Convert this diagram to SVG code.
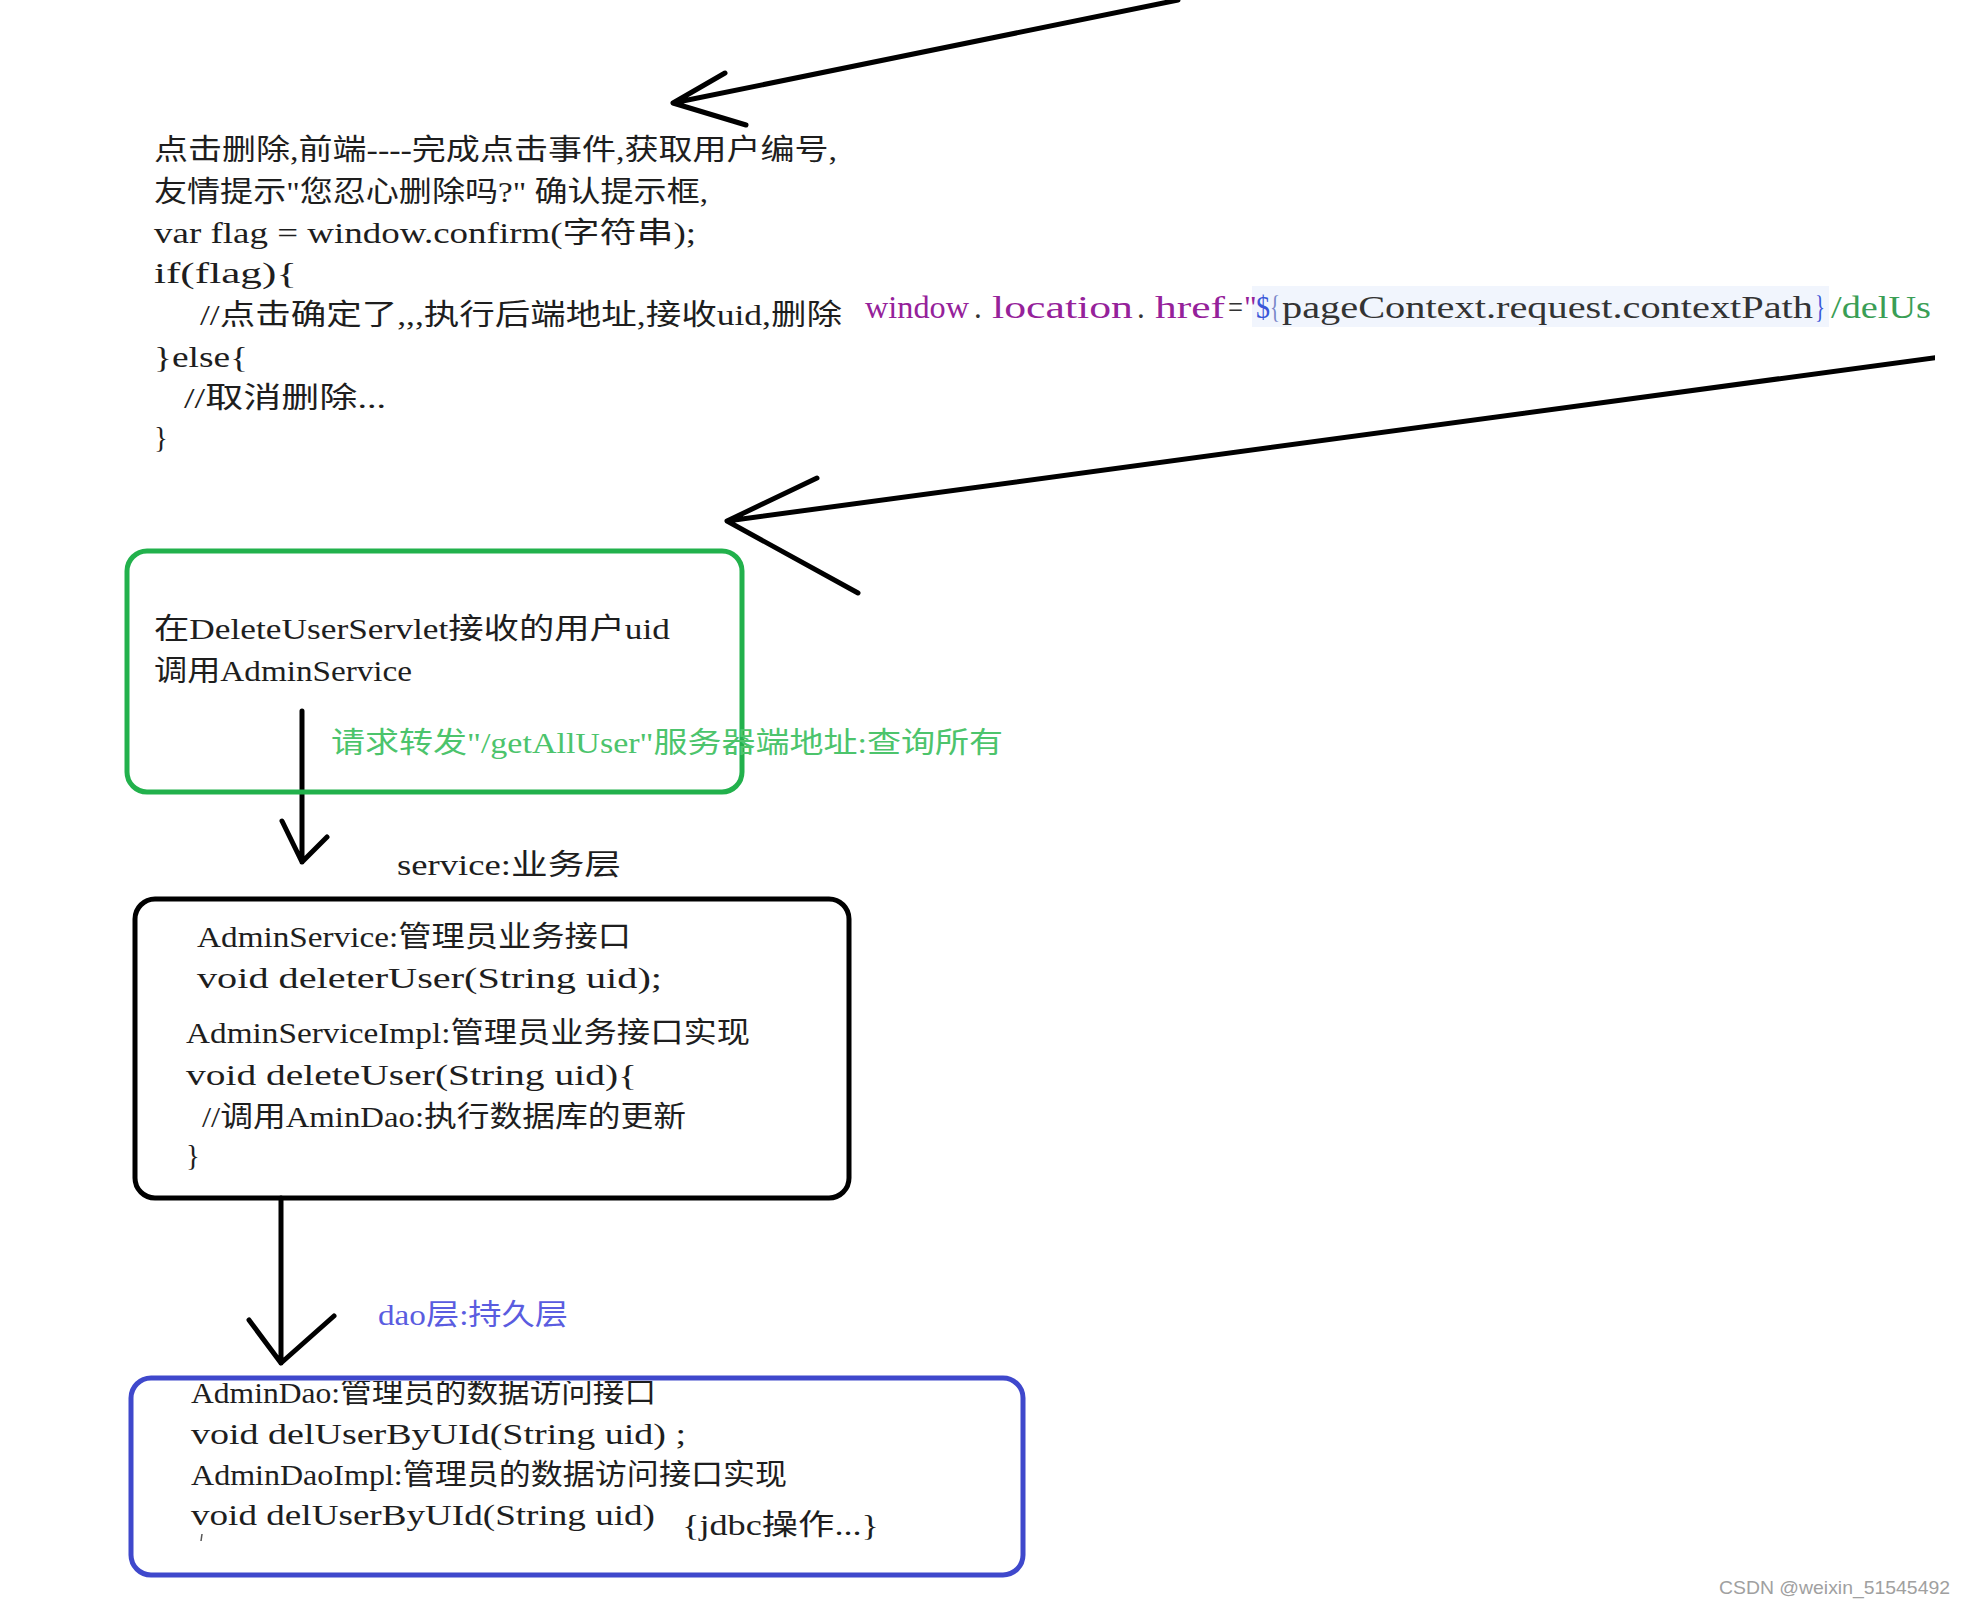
<svg xmlns="http://www.w3.org/2000/svg" width="1965" height="1607" viewBox="0 0 1965 1607">
<style>
.t{font-family:"Liberation Serif","Noto Sans CJK SC",serif;font-size:29px;fill:#1e1e1e;}
.c{font-family:"Liberation Serif","Noto Sans CJK SC",serif;font-size:31px;}
.pu{fill:#95219a;}
.dk{fill:#333333;}
.bl{fill:#3a55d8;}
.bg{fill:#7a86c8;}
.gr{fill:#3a9e55;}
.ln{stroke:#000;stroke-width:5;fill:none;stroke-linecap:round;stroke-linejoin:round;}
.box{fill:none;stroke-width:5;}
</style>
<defs>
<clipPath id="clipRight"><rect x="0" y="0" width="1935" height="1607"/></clipPath>
<clipPath id="clipDao"><rect x="0" y="1381" width="1965" height="226"/></clipPath>
</defs>
<rect width="1965" height="1607" fill="#ffffff"/>

<g id="connectors">
  <path class="ln" d="M1178 0 L673 103 M725 73 L673 103 L746 125"/>
  <path class="ln" clip-path="url(#clipRight)" d="M1940 357 L727 521 M817 478 L727 521 L858 593"/>
  <path class="ln" d="M302 711 L302 862 M282 821 L302 862 L327 837"/>
  <path class="ln" d="M281 1198 L281 1363 M249 1320 L281 1363 L334 1316"/>
</g>

<g id="node-frontend">
  <text class="t" x="154" y="160" textLength="683" lengthAdjust="spacingAndGlyphs">点击删除,前端----完成点击事件,获取用户编号,</text>
  <text class="t" x="154" y="202" textLength="554" lengthAdjust="spacingAndGlyphs">友情提示"您忍心删除吗?" 确认提示框,</text>
  <text class="t" x="154" y="243" textLength="542" lengthAdjust="spacingAndGlyphs">var flag = window.confirm(字符串);</text>
  <text class="t" x="154" y="283" textLength="143" lengthAdjust="spacingAndGlyphs">if(flag){</text>
  <text class="t" x="200" y="325" textLength="642" lengthAdjust="spacingAndGlyphs">//点击确定了,,,执行后端地址,接收uid,删除</text>
  <text class="t" x="154" y="367" textLength="94" lengthAdjust="spacingAndGlyphs">}else{</text>
  <text class="t" x="184" y="408" textLength="202" lengthAdjust="spacingAndGlyphs">//取消删除...</text>
  <text class="t" x="154" y="447">}</text>
</g>

<g id="node-code" clip-path="url(#clipRight)">
  <rect x="1252" y="286" width="577" height="41" fill="#f1f5fd"/>
  <text class="c pu" x="865" y="318" textLength="104" lengthAdjust="spacingAndGlyphs">window</text>
  <text class="c dk" x="974" y="318">.</text>
  <text class="c pu" x="992" y="318" textLength="141" lengthAdjust="spacingAndGlyphs">location</text>
  <text class="c dk" x="1137" y="318">.</text>
  <text class="c pu" x="1155" y="318" textLength="70" lengthAdjust="spacingAndGlyphs">href</text>
  <text class="c dk" x="1228" y="318" textLength="15" lengthAdjust="spacingAndGlyphs">=</text>
  <text class="c pu" x="1244" y="318">"</text>
  <text class="c bl" x="1256" y="318" textLength="14" lengthAdjust="spacingAndGlyphs">$</text>
  <text class="c bg" x="1270" y="318" textLength="10" lengthAdjust="spacingAndGlyphs">{</text>
  <text class="c dk" x="1282" y="318" textLength="531" lengthAdjust="spacingAndGlyphs">pageContext.request.contextPath</text>
  <text class="c bl" x="1815" y="318" textLength="10" lengthAdjust="spacingAndGlyphs">}</text>
  <text class="c gr" x="1831" y="318" textLength="100" lengthAdjust="spacingAndGlyphs">/delUs</text>
</g>

<g id="node-servlet">
  <rect class="box" x="127" y="551" width="615" height="241" rx="20" ry="20" stroke="#22b14c"/>
  <text class="t" x="154" y="639" textLength="516" lengthAdjust="spacingAndGlyphs">在DeleteUserServlet接收的用户uid</text>
  <text class="t" x="154" y="681" textLength="258" lengthAdjust="spacingAndGlyphs">调用AdminService</text>
</g>

<g id="label-forward">
  <text class="t" x="331" y="753" textLength="672" lengthAdjust="spacingAndGlyphs" style="fill:#4cc46c">请求转发"/getAllUser"服务器端地址:查询所有</text>
</g>

<g id="label-service">
  <text class="t" x="397" y="875" textLength="224" lengthAdjust="spacingAndGlyphs">service:业务层</text>
</g>

<g id="node-service">
  <rect class="box" x="135" y="899" width="714" height="299" rx="20" ry="20" stroke="#000000" stroke-width="6"/>
  <text class="t" x="197" y="947" textLength="434" lengthAdjust="spacingAndGlyphs">AdminService:管理员业务接口</text>
  <text class="t" x="197" y="988" textLength="465" lengthAdjust="spacingAndGlyphs">void deleterUser(String uid);</text>
  <text class="t" x="186" y="1043" textLength="564" lengthAdjust="spacingAndGlyphs">AdminServiceImpl:管理员业务接口实现</text>
  <text class="t" x="186" y="1085" textLength="451" lengthAdjust="spacingAndGlyphs">void deleteUser(String uid){</text>
  <text class="t" x="202" y="1127" textLength="484" lengthAdjust="spacingAndGlyphs">//调用AminDao:执行数据库的更新</text>
  <text class="t" x="186" y="1165">}</text>
</g>

<g id="label-dao">
  <text class="t" x="378" y="1325" textLength="190" lengthAdjust="spacingAndGlyphs" style="fill:#5a5ce0">dao层:持久层</text>
</g>

<g id="node-dao">
  <text class="t" x="191" y="1403" textLength="465" lengthAdjust="spacingAndGlyphs" clip-path="url(#clipDao)">AdminDao:管理员的数据访问接口</text>
  <rect class="box" x="131" y="1378" width="892" height="197" rx="20" ry="20" stroke="#3f48cc"/>
  <text class="t" x="191" y="1444" textLength="495" lengthAdjust="spacingAndGlyphs">void delUserByUId(String uid) ;</text>
  <text class="t" x="191" y="1485" textLength="596" lengthAdjust="spacingAndGlyphs">AdminDaoImpl:管理员的数据访问接口实现</text>
  <text class="t" x="191" y="1525" textLength="464" lengthAdjust="spacingAndGlyphs">void delUserByUId(String uid)</text>
  <text class="t" x="682" y="1535" textLength="197" lengthAdjust="spacingAndGlyphs">{jdbc操作...}</text>
  <path d="M202 1534 L201 1541" stroke="#555" stroke-width="1.5" fill="none"/>
</g>

<g id="watermark">
  <text x="1719" y="1594" textLength="231" lengthAdjust="spacingAndGlyphs" style="font-family:'Liberation Sans',Arial,sans-serif;font-size:19px;fill:#a0a0a0">CSDN @weixin_51545492</text>
</g>
</svg>
